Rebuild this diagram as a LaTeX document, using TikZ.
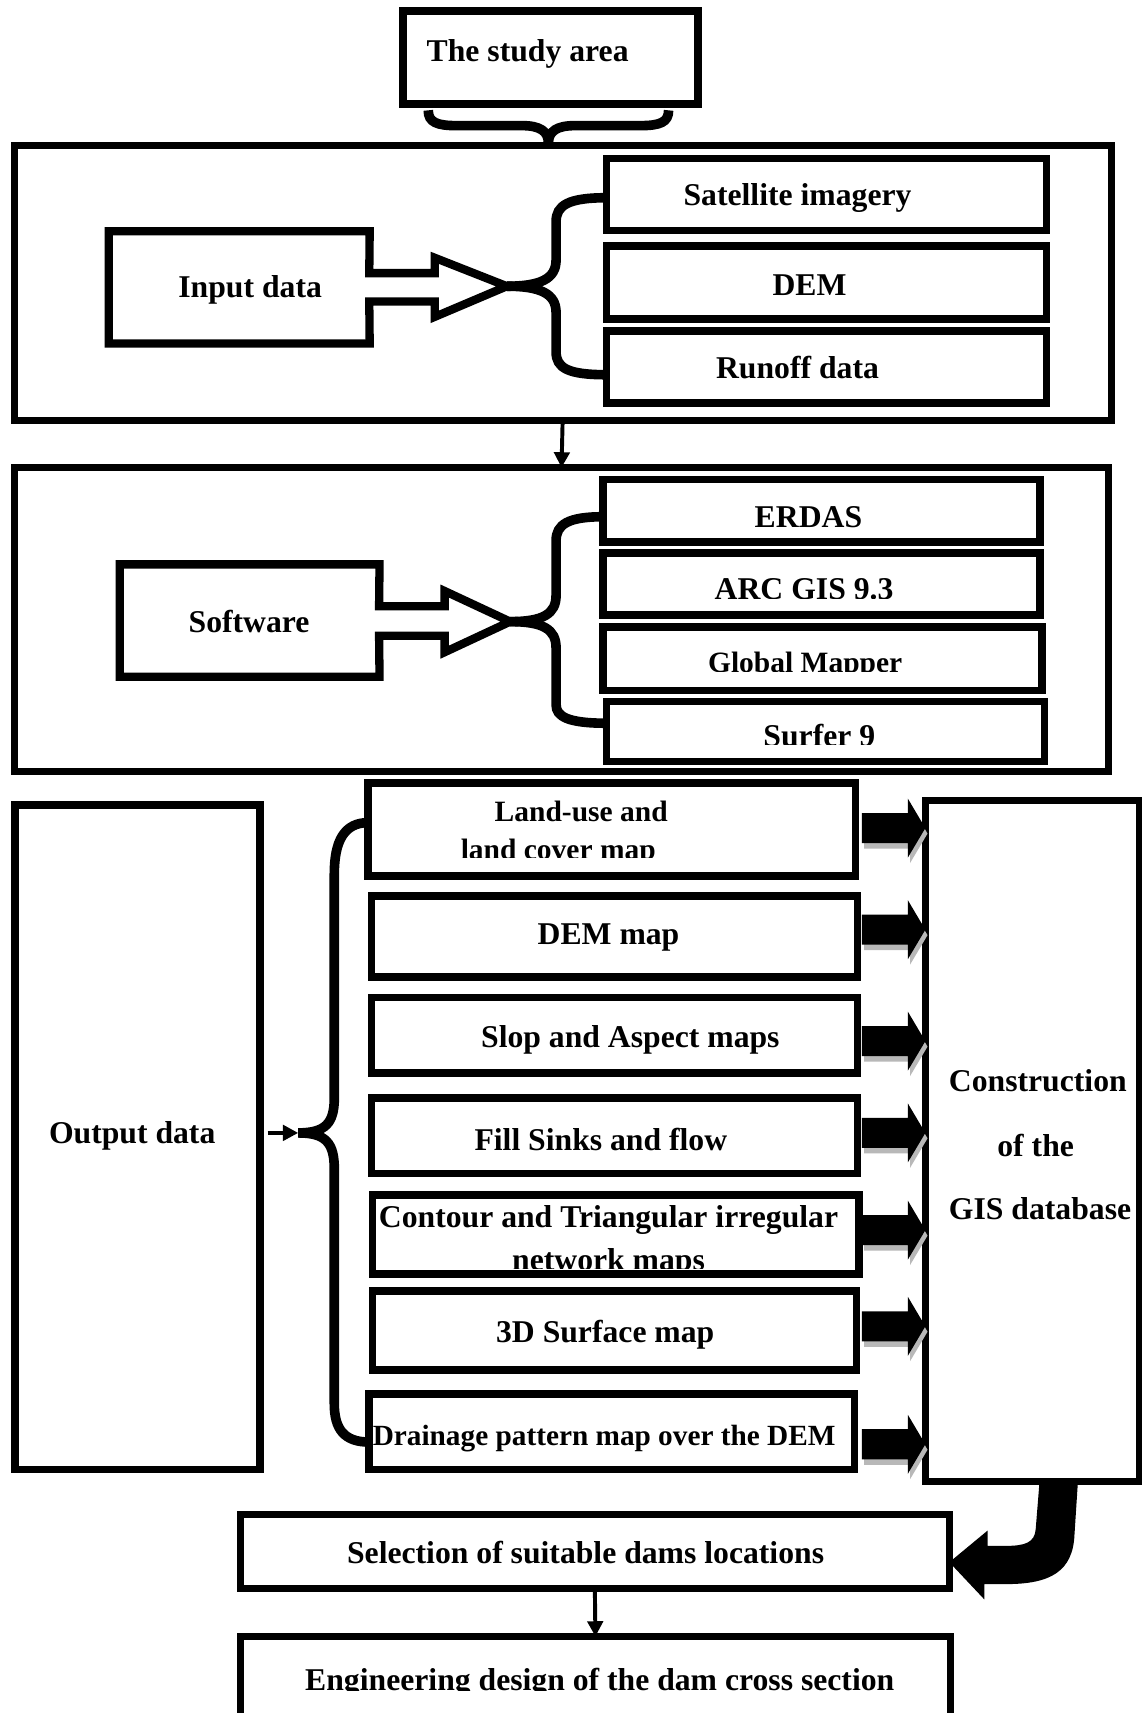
\documentclass[tikz,border=0pt]{standalone}
\usepackage{fontspec}
\setmainfont{Liberation Serif}
\usetikzlibrary{fit,arrows.meta,calc}
\begin{document}
\begin{tikzpicture}[x=0.5pt,y=-0.5pt,
  box/.style={draw, line width=3.5pt, inner sep=0pt, outer sep=0pt},
  obox/.style={draw, line width=3.2pt, inner sep=0pt, outer sep=0pt},
  txtc/.style={font=\fontsize{14.5}{17}\selectfont\bfseries, inner sep=0pt, anchor=base},
  txt/.style={txtc, yshift=-0.75pt},
  small/.style={font=\fontsize{13.5}{16}\selectfont\bfseries},
  bracestyle/.style={line width=4.4pt},
  thinarrow/.style={line width=1.8pt, -{Triangle[length=7pt,width=7pt]}},
  hollow/.style={line width=3.8pt, line join=miter},
  pics/barrow/.style={code={
    \fill (-58,-13.75) -- (-16,-13.75) -- (-16,-27) -- (0,0) -- (-16,27) -- (-16,13.75) -- (-58,13.75) -- cycle;}}]
\fill[white] (0,0) rectangle (1045,1568);
\useasboundingbox (0,0) rectangle (1045,1568);

% ---------- study area ----------
\node[box, line width=3.8pt, fit={(369,10) (639,95)}] (study) {};
\node[txt] (studyT) at (483,55) {The study area};

% ---------- block 1 ----------
\node[obox, fit={(13,133) (1017,385)}] (out1) {};
\draw[bracestyle] (392,101) .. controls (392,112) and (400,115) .. (418,115) -- (478,115) .. controls (494,115) and (502,120) .. (502,131);
\draw[bracestyle] (612,101) .. controls (612,112) and (604,115) .. (586,115) -- (526,115) .. controls (510,115) and (502,120) .. (502,131);

\node[fit={(100,212) (338,314)}, inner sep=0pt] (input) {};
\draw[hollow] (input.north west) -- (input.north east) -- (338,250) -- (398,250) -- (398,236) -- (464,262) -- (398,290) -- (398,276) -- (338,276) -- (input.south east) -- (input.south west) -- cycle;
\node[txt] (inputT) at (229,271) {Input data};
\coordinate (tip1) at (464,262);

\node[box, fit={(555,145) (958,211)}] (sat) {};
\node[txt] (satT) at (730,187) {Satellite imagery};
\node[box, fit={(555,225) (958,292)}] (dem) {};
\node[txt] (demT) at (741,269) {DEM};
\node[box, fit={(555,303) (958,369)}] (run) {};
\node[txt] (runT) at (730,345) {Runoff data};

\draw[bracestyle] (tip1) .. controls (495,262) and (509,255) .. (509,238) -- (509,203) .. controls (509,188) and (520,181) .. (sat.west |- 0,181);
\draw[bracestyle] (tip1) .. controls (495,262) and (509,269) .. (509,286) -- (509,322) .. controls (509,337) and (520,343) .. (run.west |- 0,343);

% ---------- block 2 ----------
\node[obox, fit={(13,428) (1015,706)}] (out2) {};
\draw[thinarrow] (out1.south) -- (out2.north);

\node[fit={(110,517) (347,619)}, inner sep=0pt] (soft) {};
\draw[hollow] (soft.north west) -- (soft.north east) -- (347,555) -- (407,555) -- (407,541) -- (467,569) -- (407,597) -- (407,582) -- (347,582) -- (soft.south east) -- (soft.south west) -- cycle;
\node[txt] (softT) at (228,577) {Software};
\coordinate (tip2) at (467,569);

\node[box, fit={(552,439) (952,496)}] (erdas) {};
\node[txt] (erdasT) at (740,481) {ERDAS};
\node[box, fit={(552,506) (952,563)}] (arc) {};
\begin{scope}
\clip (552,500) rectangle (952,547.5);
\node[txtc] (arcT) at (736,549) {ARC GIS 9.3};
\end{scope}
\node[box, fit={(552,574) (954,632)}] (glob) {};
\begin{scope}
\clip (552,570) rectangle (954,614.6);
\node[txtc, small] (globT) at (737,616) {Global Mapper};
\end{scope}
\node[box, fit={(555,642) (956,697)}] (surf) {};
\begin{scope}
\clip (555,640) rectangle (956,681.7);
\node[txtc] (surfT) at (750,683) {Surfer 9};
\end{scope}

\draw[bracestyle] (tip2) .. controls (497,569) and (509,562) .. (509,545) -- (509,495) .. controls (509,480) and (520,473) .. (erdas.west |- 0,473);
\draw[bracestyle] (tip2) .. controls (497,569) and (509,576) .. (509,593) -- (509,645) .. controls (509,656) and (520,662) .. (surf.west |- 0,662);

% ---------- block 3 ----------
\node[box, fit={(14,737) (238,1345)}] (outp) {};
\node[txt] (outpT) at (121,1045) {Output data};
\coordinate (tip3) at (273,1037);
\draw[thinarrow] (245,1037) -- (tip3);

\node[box, fit={(337,717) (783,802)}] (lu) {};
\node[txt, small] (luT1) at (532,750) {Land-use and};
\begin{scope}
\clip (337,760) rectangle (783,785);
\node[txtc, small] (luT2) at (511,786.5) {land cover map};
\end{scope}
\node[box, fit={(340,820) (785,894)}] (demm) {};
\node[txt] (demmT) at (557,863) {DEM map};
\node[box, fit={(340,913) (785,982)}] (slop) {};
\node[txt] (slopT) at (577,957) {Slop and Aspect maps};
\node[box, fit={(340,1005) (785,1074)}] (fill) {};
\node[txt] (fillT) at (550,1052) {Fill Sinks and flow};
\node[box, fit={(341,1094) (786,1166)}] (cont) {};
\node[txt] (contT1) at (557,1122) {Contour and Triangular irregular};
\begin{scope}
\clip (341,1130) rectangle (786,1161);
\node[txtc] (contT2) at (557,1162.5) {network maps};
\end{scope}
\node[box, fit={(341,1182) (784,1254)}] (sd) {};
\node[txt] (sdT) at (554,1227) {3D Surface map};
\node[box, fit={(338,1276) (782,1345)}] (drain) {};
\node[txt, font=\fontsize{13.4}{16}\selectfont\bfseries] (drainT) at (553,1322) {Drainage pattern map over the DEM};

\draw[bracestyle] (tip3) .. controls (298,1037) and (306,1028) .. (306,1005) -- (306,800) .. controls (306,770) and (315,753) .. (lu.west |- 0,753);
\draw[bracestyle] (tip3) .. controls (298,1037) and (306,1046) .. (306,1070) -- (306,1285) .. controls (306,1308) and (315,1320) .. (drain.west |- 0,1320);

\node[obox, fit={(847,733) (1043,1356)}] (cons) {};
\node[txt] (consT1) at (950,998) {Construction};
\node[txt] (consT2) at (948,1057) {of the};
\node[txt] (consT3) at (952,1115) {GIS database};

\foreach \yy in {758,851,953,1037,1126,1214,1322}{
  \pic[black!28] at (849,\yy+5) {barrow};
  \pic at (847,\yy) {barrow};
}

% ---------- bottom ----------
\node[obox, fit={(220,1386) (869,1454)}] (sel) {};
\node[txt] (selT) at (536,1430) {Selection of suitable dams locations};
\node[obox, fit={(220,1498) (870,1620)}] (eng) {};
\begin{scope}
\clip (220,1500) rectangle (870,1547.5);
\node[txtc] (engT) at (549,1547) {Engineering design of the dam cross section};
\end{scope}
\draw[thinarrow] (sel.south) -- (eng.north);

\fill (951.7,1354) -- (948,1400) .. controls (947,1412) and (938,1415) .. (921,1415) -- (904,1415) -- (904,1401) -- (sel.east |- 0,1430) -- (901,1464) -- (901,1450) -- (921,1450) .. controls (962,1450) and (982,1438) .. (983.5,1405) -- (986.8,1354) -- cycle;
\end{tikzpicture}
\end{document}
